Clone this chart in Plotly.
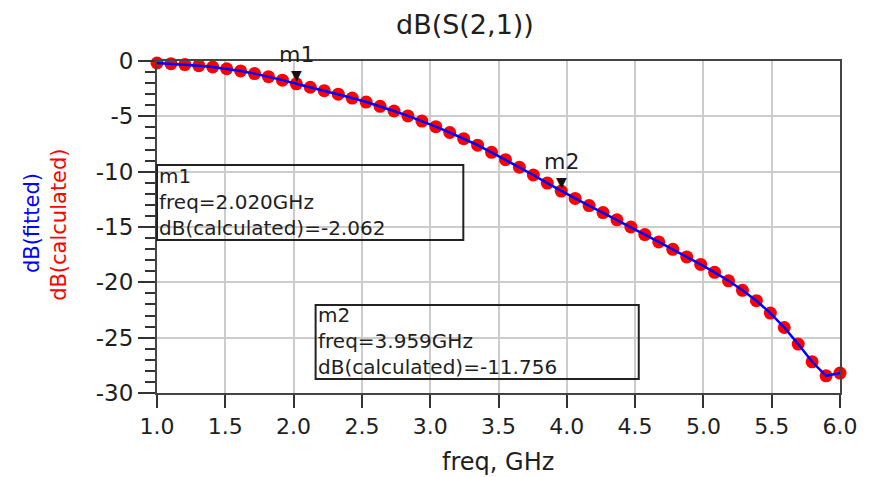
import plotly.graph_objects as go

# ---------------- data ----------------
freq_ghz = [1.000, 1.102, 1.204, 1.306, 1.408, 1.510, 1.612, 1.714, 1.816, 1.918,
            2.020, 2.122, 2.224, 2.327, 2.429, 2.531, 2.633, 2.735, 2.837, 2.939,
            3.041, 3.143, 3.245, 3.347, 3.449, 3.551, 3.653, 3.755, 3.857, 3.959,
            4.061, 4.163, 4.265, 4.367, 4.469, 4.571, 4.673, 4.776, 4.878, 4.980,
            5.082, 5.184, 5.286, 5.388, 5.490, 5.592, 5.694, 5.796, 5.898, 6.000]

db_calculated = [-0.18, -0.24, -0.32, -0.42, -0.54, -0.70, -0.90, -1.14, -1.42, -1.73,
                 -2.062, -2.37, -2.68, -3.00, -3.35, -3.71, -4.10, -4.52, -4.96, -5.43,
                 -5.93, -6.46, -7.02, -7.61, -8.25, -8.92, -9.60, -10.30, -11.03, -11.756,
                 -12.42, -13.06, -13.70, -14.35, -15.00, -15.68, -16.35, -17.02, -17.70, -18.38,
                 -19.10, -19.86, -20.72, -21.66, -22.78, -24.08, -25.58, -27.18, -28.45, -28.20]

db_fitted = [-0.18, -0.24, -0.32, -0.42, -0.55, -0.70, -0.90, -1.14, -1.42, -1.73,
             -2.06, -2.37, -2.68, -3.00, -3.35, -3.71, -4.10, -4.52, -4.96, -5.43,
             -5.93, -6.46, -7.02, -7.61, -8.25, -8.92, -9.60, -10.30, -11.03, -11.75,
             -12.42, -13.06, -13.70, -14.35, -15.00, -15.68, -16.35, -17.02, -17.70, -18.38,
             -19.10, -19.86, -20.72, -21.66, -22.78, -24.08, -25.58, -27.18, -28.45, -28.20]

x_ticks = [1.0, 1.5, 2.0, 2.5, 3.0, 3.5, 4.0, 4.5, 5.0, 5.5, 6.0]
x_tick_labels = ["1.0", "1.5", "2.0", "2.5", "3.0", "3.5", "4.0", "4.5", "5.0", "5.5", "6.0"]
y_ticks = [0, -5, -10, -15, -20, -25, -30]
y_tick_labels = ["0", "-5", "-10", "-15", "-20", "-25", "-30"]

marker_names = ["m1", "m2"]
marker_freq = [2.020, 3.959]
marker_value = [-2.062, -11.756]

# ---------------- layout geometry (pixels) ----------------
W, H = 870, 477
L, R, T, B = 157, 846, 61, 393
PW, PH = R - L, B - T


def px(x):
    return (x - L) / PW


def py(y):
    return (B - y) / PH


FONT = "DejaVu Sans"
TXT = "#1e1e1e"

fig = go.Figure()

fig.add_trace(go.Scatter(
    x=freq_ghz, y=db_calculated, mode="markers", name="dB(calculated)",
    marker=dict(color="#ff0000", size=13, line=dict(width=0)),
    cliponaxis=False, showlegend=False))

fig.add_trace(go.Scatter(
    x=freq_ghz, y=db_fitted, mode="lines", name="dB(fitted)",
    line=dict(color="#0000ff", width=2.5),
    cliponaxis=False, showlegend=False))

annotations = []
# marker triangles and labels
for name, f, v in zip(marker_names, marker_freq, marker_value):
    annotations.append(dict(x=f, y=v, xref="x", yref="y", text="▼", showarrow=False,
                            xanchor="center", yanchor="bottom", yshift=-1,
                            font=dict(family=FONT, size=14, color="#111111")))
    annotations.append(dict(x=f, y=v, xref="x", yref="y", text=name, showarrow=False,
                            xanchor="center", yanchor="bottom", yshift=15,
                            font=dict(family=FONT, size=22, color=TXT)))

# marker readout boxes
box_specs = [
    (157, 466, 165, 240, 0),
    (317, 643, 305, 379, 1),
]
shapes = []
for x0, x1, y0, y1, i in box_specs:
    shapes.append(dict(type="rect", xref="paper", yref="paper",
                       x0=px(x0), x1=px(x1), y0=py(y1), y1=py(y0),
                       line=dict(color="#222222", width=2), fillcolor="rgba(0,0,0,0)"))
    text = "<br>".join([marker_names[i], "freq=%.3fGHz" % marker_freq[i],
                        "dB(calculated)=%.3f" % marker_value[i]])
    annotations.append(dict(x=px(x0 + 1), y=py((y0 + y1) / 2 - 1), xref="paper", yref="paper",
                            text=text, showarrow=False, xanchor="left", yanchor="middle",
                            align="left", borderpad=0,
                            font=dict(family=FONT, size=20, color=TXT)))

# y axis titles (two colored lines)
annotations.append(dict(x=px(31), y=py(223), xref="paper", yref="paper", text="dB(fitted)",
                        textangle=-90, showarrow=False, xanchor="center", yanchor="middle",
                        font=dict(family=FONT, size=21, color="#0000ff")))
annotations.append(dict(x=px(58), y=py(225), xref="paper", yref="paper", text="dB(calculated)",
                        textangle=-90, showarrow=False, xanchor="center", yanchor="middle",
                        font=dict(family=FONT, size=21, color="#ff0000")))
# x axis title
annotations.append(dict(x=px(501), y=py(462), xref="paper", yref="paper", text="freq, GHz",
                        showarrow=False, xanchor="center", yanchor="middle",
                        font=dict(family=FONT, size=24, color=TXT)))
# chart title
annotations.append(dict(x=px(468), y=py(25), xref="paper", yref="paper", text="dB(S(2,1))",
                        showarrow=False, xanchor="center", yanchor="middle",
                        font=dict(family=FONT, size=27, color=TXT)))

fig.update_layout(
    width=W, height=H,
    margin=dict(l=L, r=W - R, t=T, b=H - B, pad=0),
    paper_bgcolor="white", plot_bgcolor="white",
    showlegend=False,
    annotations=annotations, shapes=shapes,
    xaxis=dict(range=[1, 6], tickvals=x_ticks, ticktext=x_tick_labels,
               showgrid=True, gridcolor="#cccccc", gridwidth=2,
               showline=True, linecolor="#444444", linewidth=2, mirror=True,
               ticks="outside", ticklen=13, tickwidth=2, tickcolor="#333333",
               zeroline=False,
               tickfont=dict(family=FONT, size=22, color=TXT)),
    yaxis=dict(range=[-30, 0], tickvals=y_ticks, ticktext=y_tick_labels,
               showgrid=True, gridcolor="#cccccc", gridwidth=2,
               showline=True, linecolor="#444444", linewidth=2, mirror=True,
               ticks="outside", ticklen=17, tickwidth=2, tickcolor="#333333",
               zeroline=False,
               minor=dict(ticks="outside", ticklen=10, tickwidth=2, tickcolor="#333333",
                          dtick=1, showgrid=False),
               tickfont=dict(family=FONT, size=23, color=TXT)),
)

fig.write_html("out.html")
